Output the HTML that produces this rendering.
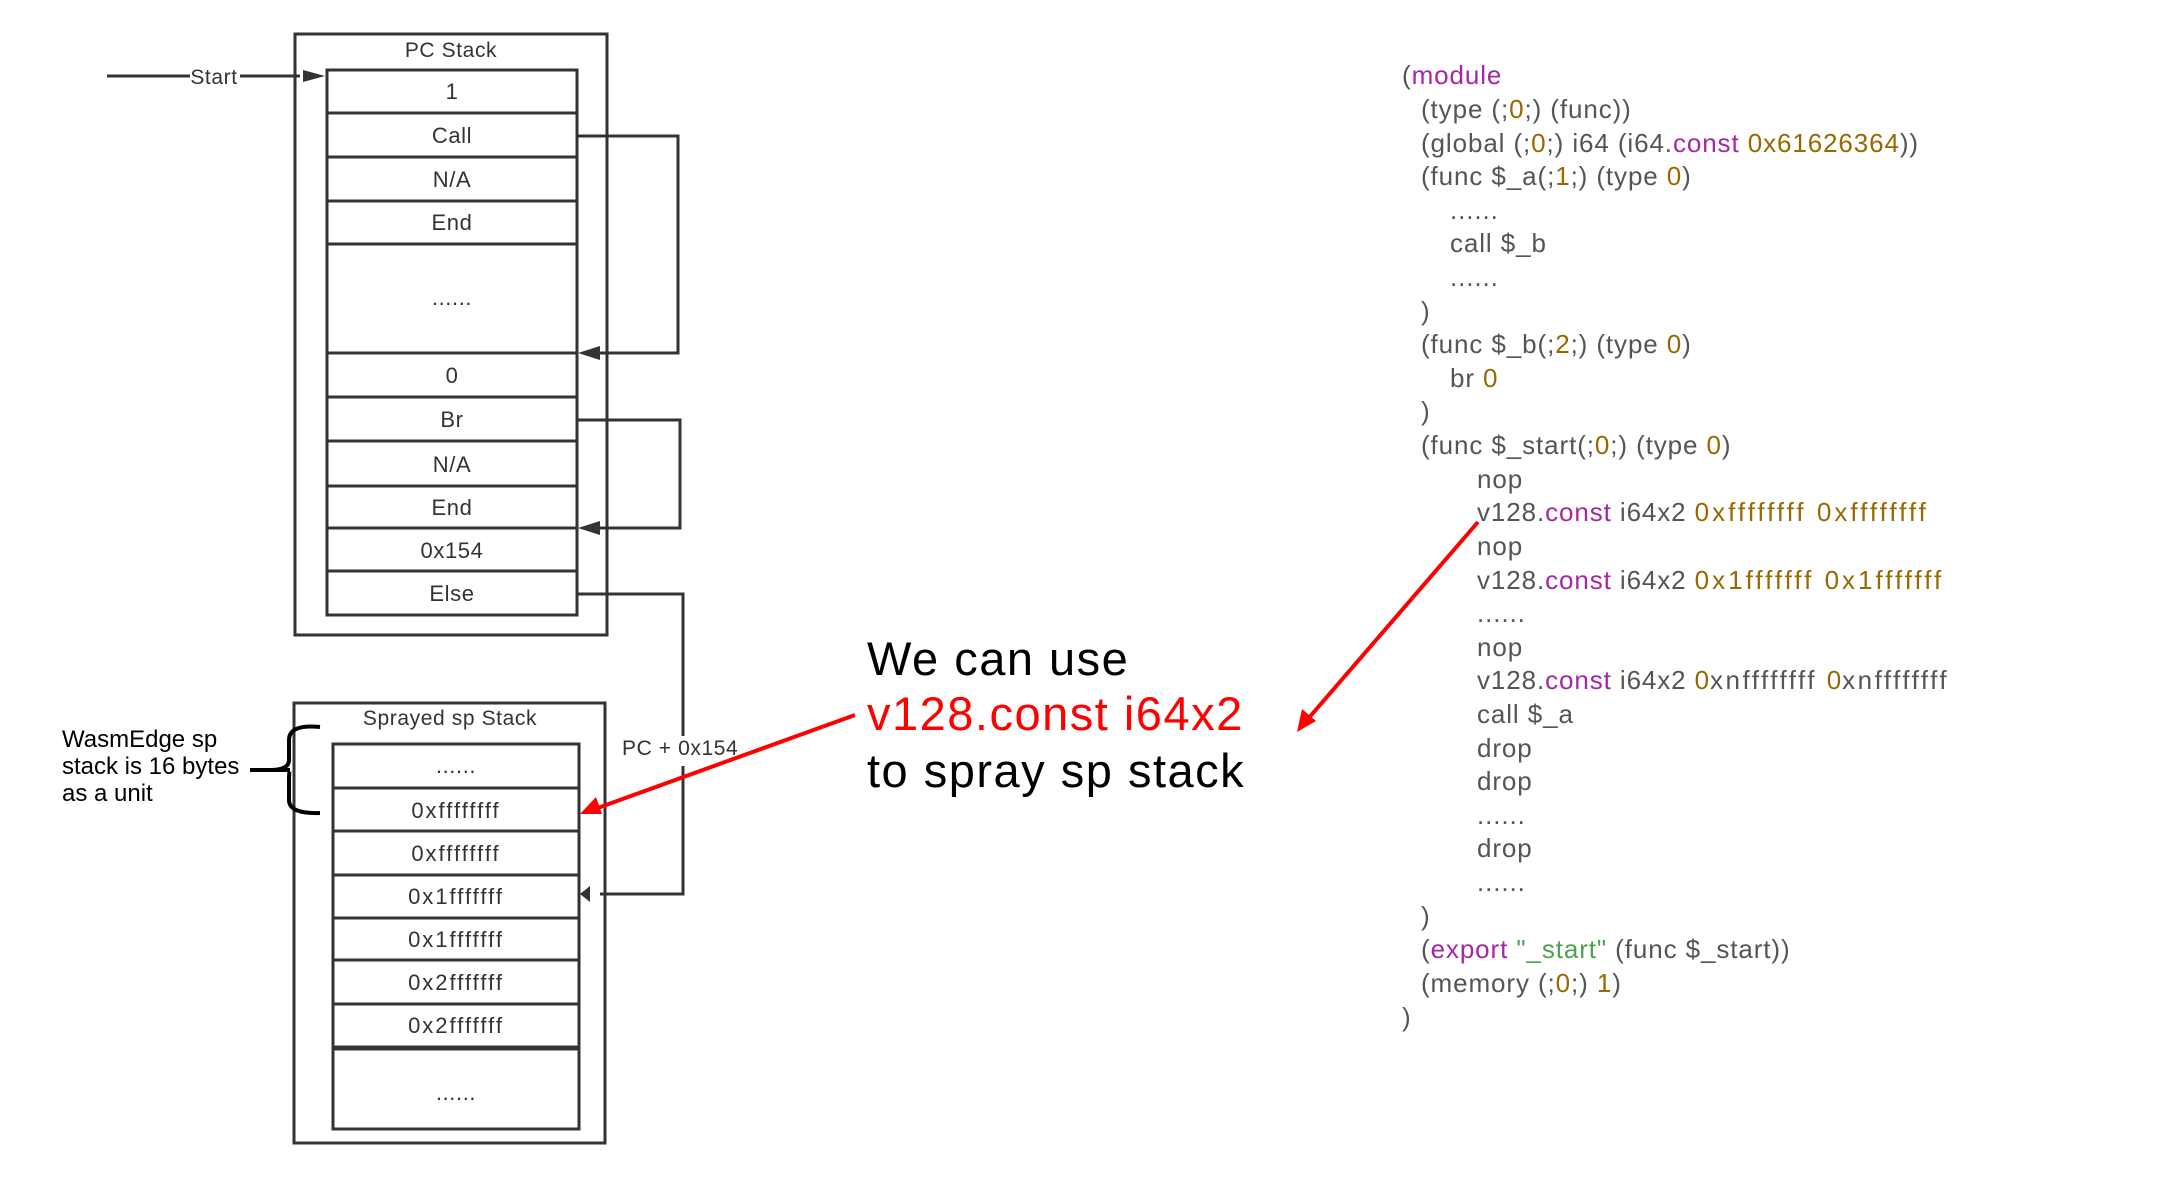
<!DOCTYPE html>
<html><head><meta charset="utf-8"><style>
html,body{margin:0;padding:0;background:#fff;}
svg{display:block;}
</style></head><body>
<svg width="2176" height="1178" viewBox="0 0 2176 1178" xmlns="http://www.w3.org/2000/svg" font-family="Liberation Sans, sans-serif">
<g stroke="#333" stroke-width="3" fill="none">
<rect x="295" y="34" width="312" height="601"/>
<rect x="327" y="70" width="250" height="545"/>
<line x1="327" y1="113" x2="577" y2="113"/><line x1="327" y1="157" x2="577" y2="157"/>
<line x1="327" y1="201" x2="577" y2="201"/><line x1="327" y1="244" x2="577" y2="244"/>
<line x1="327" y1="353" x2="577" y2="353"/><line x1="327" y1="397" x2="577" y2="397"/>
<line x1="327" y1="441" x2="577" y2="441"/><line x1="327" y1="486" x2="577" y2="486"/>
<line x1="327" y1="528" x2="577" y2="528"/><line x1="327" y1="571" x2="577" y2="571"/>
<line x1="107" y1="76" x2="300" y2="76"/>
<polyline points="577,136 678,136 678,353 600,353"/>
<polyline points="577,420 680,420 680,528 600,528"/>
<polyline points="577,594 683,594 683,894 600,894"/>
<rect x="294" y="703" width="311" height="440"/>
<rect x="333" y="744" width="246" height="385"/>
<line x1="333" y1="788" x2="579" y2="788"/><line x1="333" y1="831" x2="579" y2="831"/>
<line x1="333" y1="875" x2="579" y2="875"/><line x1="333" y1="918" x2="579" y2="918"/>
<line x1="333" y1="960" x2="579" y2="960"/><line x1="333" y1="1004" x2="579" y2="1004"/>
<line x1="333" y1="1048" x2="579" y2="1048" stroke-width="5"/>
</g>
<g fill="#333">
<path d="M303,70 L325,76 L303,82 z"/>
<path d="M578,353 L600,346 L600,360 z"/>
<path d="M578,528 L600,521 L600,535 z"/>
<path d="M580,894 L590,886 L590,902 z"/>
</g>
<rect x="190" y="66" width="50" height="20" fill="#fff"/>
<rect x="672" y="736" width="22" height="30" fill="#fff"/>
<g fill="#333" font-size="22" text-anchor="middle" letter-spacing="0.6">
<text x="214" y="84" font-size="21">Start</text>
<text x="451" y="57" font-size="21">PC Stack</text>
<text x="452" y="99">1</text><text x="452" y="143">Call</text><text x="452" y="187">N/A</text>
<text x="452" y="230">End</text><text x="452" y="305">......</text><text x="452" y="383">0</text>
<text x="452" y="427">Br</text><text x="452" y="472">N/A</text><text x="452" y="515">End</text>
<text x="452" y="558">0x154</text><text x="452" y="601">Else</text>
<text x="450" y="725" font-size="21">Sprayed sp Stack</text>
<text x="456" y="773">......</text>
<g letter-spacing="2">
<text x="456" y="818">0xffffffff</text><text x="456" y="861">0xffffffff</text>
<text x="456" y="904">0x1fffffff</text><text x="456" y="947">0x1fffffff</text>
<text x="456" y="990">0x2fffffff</text><text x="456" y="1033">0x2fffffff</text>
</g>
<text x="456" y="1100">......</text>
<text x="622" y="755" text-anchor="start" font-size="21">PC + 0x154</text>
</g>
<g fill="#000" font-size="24">
<text x="62" y="747">WasmEdge sp</text><text x="62" y="774">stack is 16 bytes</text><text x="62" y="801">as a unit</text>
</g>
<path d="M320,727 Q289,724 289,740 L289,760 Q289,770 270,770 M250,770 L290,770 Q289,770 289,782 L289,800 Q289,814 320,813" stroke="#000" stroke-width="4" fill="none"/>
<g font-size="47" letter-spacing="1.5">
<text x="867" y="675" fill="#000">We can use</text>
<text x="867" y="730" fill="#f00">v128.const i64x2</text>
<text x="867" y="787" fill="#000">to spray sp stack</text>
</g>
<g stroke="#f00" stroke-width="4" fill="none">
<line x1="855" y1="715" x2="595" y2="809"/>
<line x1="1478" y1="522" x2="1307" y2="720"/>
</g>
<g fill="#f00">
<path d="M580,814 L596,797 L602,814 z"/>
<path d="M1297,732 L1302,709 L1316,721 z"/>
</g>
<g font-size="26" fill="#555" letter-spacing="0.9">
<text x="1402" y="84">(<tspan fill="#a626a4">module</tspan></text>
<text x="1421" y="118">(type (;<tspan fill="#986801">0</tspan>;) (func))</text>
<text x="1421" y="152">(global (;<tspan fill="#986801">0</tspan>;) i64 (i64.<tspan fill="#a626a4">const</tspan> <tspan fill="#986801">0x61626364</tspan>))</text>
<text x="1421" y="185">(func $_a(;<tspan fill="#986801">1</tspan>;) (type <tspan fill="#986801">0</tspan>)</text>
<text x="1450" y="219">......</text>
<text x="1450" y="252">call $_b</text>
<text x="1450" y="286">......</text>
<text x="1421" y="320">)</text>
<text x="1421" y="353">(func $_b(;<tspan fill="#986801">2</tspan>;) (type <tspan fill="#986801">0</tspan>)</text>
<text x="1450" y="387">br <tspan fill="#986801">0</tspan></text>
<text x="1421" y="420">)</text>
<text x="1421" y="454">(func $_start(;<tspan fill="#986801">0</tspan>;) (type <tspan fill="#986801">0</tspan>)</text>
<text x="1477" y="488">nop</text>
<text x="1477" y="521">v128.<tspan fill="#a626a4">const</tspan> i64x2 <tspan fill="#986801" letter-spacing="3">0xffffffff 0xffffffff</tspan></text>
<text x="1477" y="555">nop</text>
<text x="1477" y="589">v128.<tspan fill="#a626a4">const</tspan> i64x2 <tspan fill="#986801" letter-spacing="3">0x1fffffff 0x1fffffff</tspan></text>
<text x="1477" y="622">......</text>
<text x="1477" y="656">nop</text>
<text x="1477" y="689">v128.<tspan fill="#a626a4">const</tspan> i64x2 <tspan fill="#986801">0</tspan><tspan letter-spacing="2.5">xnffffffff </tspan><tspan fill="#986801">0</tspan><tspan letter-spacing="2.5">xnffffffff</tspan></text>
<text x="1477" y="723">call $_a</text>
<text x="1477" y="757">drop</text>
<text x="1477" y="790">drop</text>
<text x="1477" y="824">......</text>
<text x="1477" y="857">drop</text>
<text x="1477" y="891">......</text>
<text x="1421" y="925">)</text>
<text x="1421" y="958">(<tspan fill="#a626a4">export</tspan> <tspan fill="#50a14f">"_start"</tspan> (func $_start))</text>
<text x="1421" y="992">(memory (;<tspan fill="#986801">0</tspan>;) <tspan fill="#986801">1</tspan>)</text>
<text x="1402" y="1026">)</text>
</g>
</svg>
</body></html>
